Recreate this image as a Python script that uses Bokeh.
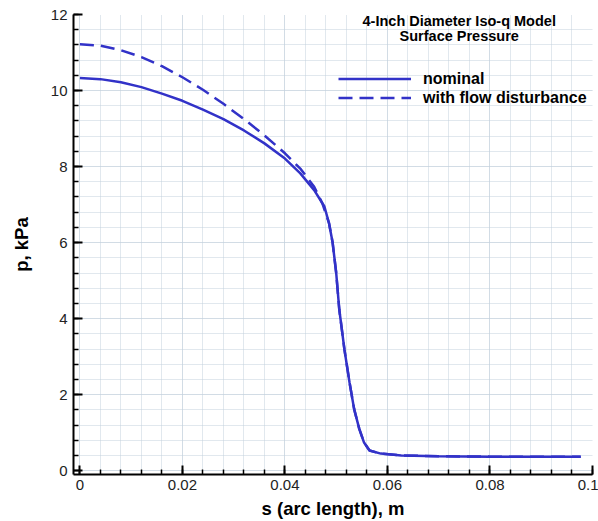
from bokeh.plotting import figure
from bokeh.models import (Range1d, SingleIntervalTicker, CustomJSTickFormatter,
                          Legend, LegendItem, Label)
from bokeh.embed import file_html
from bokeh.resources import INLINE

# ---- data ----
s_nominal = [0.000, 0.004, 0.008, 0.012, 0.016, 0.020, 0.024, 0.028, 0.032, 0.036,
             0.040, 0.043, 0.0457, 0.0477, 0.0486, 0.0493, 0.0500, 0.0506, 0.0516,
             0.0526, 0.0535, 0.0545, 0.0554, 0.0565, 0.0587, 0.0627, 0.070, 0.080,
             0.090, 0.0977]
p_nominal = [10.33, 10.30, 10.22, 10.09, 9.92, 9.73, 9.50, 9.25, 8.95, 8.61,
             8.21, 7.82, 7.38, 6.95, 6.51, 6.00, 5.20, 4.24, 3.19,
             2.32, 1.62, 1.10, 0.75, 0.53, 0.45, 0.40, 0.38, 0.37,
             0.37, 0.37]

s_disturbed = [0.000, 0.004, 0.008, 0.012, 0.016, 0.020, 0.024, 0.028, 0.032, 0.036,
               0.040, 0.0431, 0.0457, 0.0473, 0.0486, 0.0493, 0.0500, 0.0506, 0.0516,
               0.0526, 0.0535, 0.0545, 0.0554, 0.0565, 0.0587, 0.0627, 0.070, 0.080,
               0.090, 0.0977]
p_disturbed = [11.22, 11.18, 11.06, 10.88, 10.64, 10.35, 10.02, 9.65, 9.25, 8.82,
               8.35, 7.93, 7.47, 7.03, 6.51, 6.00, 5.20, 4.24, 3.19,
               2.32, 1.62, 1.10, 0.75, 0.53, 0.45, 0.40, 0.38, 0.37,
               0.37, 0.37]

series_labels = ["nominal", "with flow disturbance"]
title_lines = ["4-Inch Diameter Iso-q Model", "Surface Pressure"]
x_label = "s (arc length), m"
y_label = "p, kPa"

LINE_COLOR = "#3232c8"
GRID_COLOR = "#c2d0dc"
FONT = "Liberation Sans"

p = figure(width=598, height=521, output_backend="svg", toolbar_location=None,
           x_range=Range1d(-0.00125, 0.1), y_range=Range1d(-0.1, 12),
           min_border_left=73, min_border_right=6, min_border_top=14,
           min_border_bottom=45)
p.outline_line_color = None
p.background_fill_color = "white"
p.border_fill_color = "white"

r1 = p.line(s_nominal, p_nominal, line_color=LINE_COLOR, line_width=2.5)
r2 = p.line(s_disturbed, p_disturbed, line_color=LINE_COLOR, line_width=2.5,
            line_dash="14 7")

# axes
for ax, tick_int in ((p.xaxis[0], 0.02), (p.yaxis[0], 2)):
    ax.ticker = SingleIntervalTicker(interval=tick_int, num_minor_ticks=5)
    ax.axis_line_width = 2
    ax.axis_line_color = "black"
    ax.major_tick_in = 9
    ax.major_tick_out = 0
    ax.minor_tick_in = 5
    ax.minor_tick_out = 0
    ax.major_tick_line_width = 2
    ax.minor_tick_line_width = 1.5
    ax.major_tick_line_color = "black"
    ax.minor_tick_line_color = "black"
    ax.major_label_text_font = FONT
    ax.major_label_text_font_size = "15px"
    ax.major_label_text_color = "#222222"
    ax.axis_label_text_font = FONT
    ax.axis_label_text_font_size = "18.5px"
    ax.axis_label_text_font_style = "bold"
    ax.axis_label_text_color = "black"

p.xaxis.formatter = CustomJSTickFormatter(
    code="var t = tick.toFixed(2).replace(/0+$/, '').replace(/\\.$/, ''); return t;")
p.xaxis.axis_label = x_label
p.yaxis.axis_label = y_label
p.xaxis.major_label_standoff = 5
p.yaxis.major_label_standoff = 6
p.xaxis.axis_label_standoff = 5
p.yaxis.axis_label_standoff = 16

# grid at every minor tick, dotted
for g in (p.xgrid[0], p.ygrid[0]):
    g.grid_line_color = GRID_COLOR
    g.grid_line_dash = "1 1"
    g.grid_line_width = 1
    g.minor_grid_line_color = GRID_COLOR
    g.minor_grid_line_dash = "1 1"
    g.minor_grid_line_width = 1

# legend
legend = Legend(items=[LegendItem(label=series_labels[0], renderers=[r1]),
                       LegendItem(label=series_labels[1], renderers=[r2])],
                location=(265, 367), padding=0, margin=0, spacing=0,
                glyph_width=73, glyph_height=19, label_height=19,
                label_standoff=12, border_line_color=None,
                background_fill_alpha=0,
                label_text_font=FONT, label_text_font_size="16px",
                label_text_font_style="bold", label_text_color="black")
p.add_layout(legend, "center")

# title inside plot
for i, line in enumerate(title_lines):
    p.add_layout(Label(x=0.074, y=11.82 - i * 0.38, text=line,
                       text_align="center", text_baseline="middle",
                       text_font=FONT, text_font_size="14.5px",
                       text_font_style="bold", text_color="black"))

open("out.html", "w").write(file_html(p, INLINE))
